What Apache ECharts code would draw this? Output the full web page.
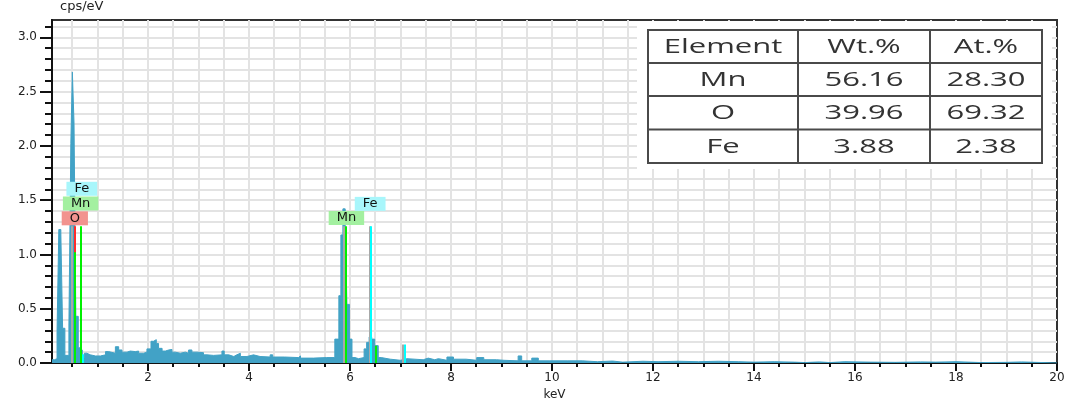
<!DOCTYPE html>
<html><head><meta charset="utf-8">
<script src="https://cdn.jsdelivr.net/npm/echarts@6/dist/echarts.min.js"></script>
<style>html,body{margin:0;padding:0;background:#fff}#c{width:1071px;height:406px}</style>
</head><body><div id="c"></div>
<script>
// ---- tick values ----
const xMajorTicks = [2, 4, 6, 8, 10, 12, 14, 16, 18, 20];
const xGridTicks = [0.5, 1, 1.5, 2, 2.5, 3, 3.5, 4, 4.5, 5, 5.5, 6, 6.5, 7, 7.5, 8, 8.5, 9, 9.5, 10,
  10.5, 11, 11.5, 12, 12.5, 13, 13.5, 14, 14.5, 15, 15.5, 16, 16.5, 17, 17.5, 18, 18.5, 19, 19.5];
const yMajorTicks = [0, 0.5, 1, 1.5, 2, 2.5, 3];
const yGridTicks = [0.1, 0.2, 0.3, 0.4, 0.5, 0.6, 0.7, 0.8, 0.9, 1, 1.1, 1.2, 1.3, 1.4, 1.5, 1.6,
  1.7, 1.8, 1.9, 2, 2.1, 2.2, 2.3, 2.4, 2.5, 2.6, 2.7, 2.8, 2.9, 3, 3.1];

// ---- spectrum: bin left edge (keV) and counts (cps/eV) ----
const specE = [
  0.10, 0.15, 0.20, 0.235, 0.275, 0.31, 0.355, 0.435, 0.473, 0.503,
  0.536, 0.572, 0.62, 0.66, 0.70, 0.74, 0.79, 0.86, 0.96, 1.06,
  1.16, 1.22, 1.355, 1.42, 1.485, 1.585, 1.65, 1.75, 1.815, 1.915,
  1.98, 2.06, 2.11, 2.165, 2.21, 2.28, 2.345, 2.41, 2.475, 2.54,
  2.64, 2.74, 2.805, 2.87, 2.97, 3.10, 3.17, 3.30, 3.465, 3.51,
  3.60, 3.70, 3.76, 3.83, 3.96, 4.09, 4.22, 4.42, 4.47, 4.70,
  4.98, 5.02, 5.28, 5.54, 5.70, 5.78, 5.82, 5.86, 5.905, 5.94,
  5.99, 6.04, 6.10, 6.17, 6.28, 6.33, 6.38, 6.43, 6.49, 6.56,
  6.62, 6.80, 7.00, 7.12, 7.45, 7.55, 7.68, 7.75, 7.92, 8.05,
  8.30, 8.51, 8.65, 8.90, 9.05, 9.33, 9.40, 9.60, 9.73, 9.96,
  10.3, 10.6, 10.9, 11.2, 11.4, 11.8, 12.1, 12.5, 12.9, 13.3,
  13.7, 14.0, 14.4, 14.8, 15.0, 15.3, 15.5, 15.8, 16.3, 16.8,
  17.3, 17.6, 18.0, 18.5, 19.0, 19.3, 20.0
];
const specC = [
  0.03, 0.04, 0.29, 1.23, 1.20, 0.32, 0.07, 0.35, 2.02, 2.68,
  2.21, 0.43, 0.14, 0.12, 0.05, 0.09, 0.075, 0.065, 0.065, 0.075,
  0.105, 0.09, 0.15, 0.12, 0.10, 0.11, 0.105, 0.11, 0.09, 0.10,
  0.13, 0.20, 0.215, 0.18, 0.135, 0.11, 0.12, 0.125, 0.10, 0.09,
  0.10, 0.09, 0.12, 0.10, 0.095, 0.075, 0.07, 0.075, 0.11, 0.075,
  0.06, 0.075, 0.09, 0.06, 0.075, 0.06, 0.055, 0.075, 0.055, 0.05,
  0.065, 0.045, 0.05, 0.05, 0.22, 0.62, 1.18, 1.42, 1.26, 0.54,
  0.22, 0.05, 0.04, 0.05, 0.13, 0.19, 0.24, 0.22, 0.16, 0.05,
  0.035, 0.025, 0.04, 0.03, 0.045, 0.03, 0.04, 0.025, 0.055, 0.035,
  0.025, 0.05, 0.03, 0.025, 0.02, 0.065, 0.02, 0.045, 0.02, 0.02,
  0.02, 0.012, 0.018, 0.008, 0.016, 0.012, 0.016, 0.012, 0.016, 0.012,
  0.008, 0.012, 0.008, 0.004, 0.01, 0.004, 0.012, 0.008, 0.006, 0.01,
  0.008, 0.012, 0.004, 0.006, 0.01, 0, 0
];

// ---- element marker lines ----
const markerE = [0.49, 0.545, 0.545, 0.665, 0.71, 5.88, 5.925, 6.385, 6.42, 6.52, 7.043, 7.083];
const markerH = [1.26, 1.26, 1.02, 1.26, 0.08, 1.26, 1.26, 1.26, 1.26, 0.16, 0.17, 0.17];
const markerColor = ['#a8a8a8', '#ff2a2a', '#00f000', '#00f000', '#00ffff', '#a8a8a8',
  '#00f000', '#a8a8a8', '#00ffff', '#00f000', '#a8a8a8', '#00ffff'];

// ---- element labels ----
const labelNames = ['O', 'Mn', 'Fe', 'Mn', 'Fe'];
const labelE = [0.552, 0.667, 0.69, 5.93, 6.40];
const labelY = [1.333, 1.47, 1.605, 1.337, 1.466];
const labelBg = ['#f2938f', '#a3f0a0', '#a8f6fb', '#a3f0a0', '#a8f6fb'];

// ---- table ----
const tableHeader = ['Element', 'Wt.%', 'At.%'];
const tableElements = ['Mn', 'O', 'Fe'];
const tableWt = ['56.16', '39.96', '3.88'];
const tableAt = ['28.30', '69.32', '2.38'];

const FONT = 'DejaVu Sans';
const chart = echarts.init(document.getElementById('c'), null, {renderer: 'canvas'});

const specData = specE.map((e, i) => [e, specC[i]]);
const markerData = markerE.map((e, i) => ({
  coords: [[e, 0], [e, markerH[i]]],
  lineStyle: {color: markerColor[i], width: 2, opacity: 1}
}));
const labelData = labelNames.map((n, i) => ({
  name: n, value: [labelE[i], labelY[i]],
  label: {backgroundColor: labelBg[i]}
}));

// table graphics
const colX = [648, 798, 930, 1042];
const rowY = [30, 63, 96, 129.5, 163];
const tbl = [{type: 'rect', shape: {x: 637, y: 21, width: 415, height: 148}, style: {fill: '#fff'}, z: 100}];
rowY.forEach(y => tbl.push({type: 'line', shape: {x1: colX[0] - 1, y1: y, x2: colX[3] + 1, y2: y},
  style: {stroke: '#4a4a4a', lineWidth: 2}, z: 101}));
colX.forEach(x => tbl.push({type: 'line', shape: {x1: x, y1: rowY[0] - 1, x2: x, y2: rowY[4] + 1},
  style: {stroke: '#4a4a4a', lineWidth: 2}, z: 101}));
const rows = [tableHeader].concat(tableElements.map((el, i) => [el, tableWt[i], tableAt[i]]));
rows.forEach((r, ri) => r.forEach((t, ci) => {
  tbl.push({type: 'text', x: (colX[ci] + colX[ci + 1]) / 2, y: (rowY[ri] + rowY[ri + 1]) / 2 + 1,
    scaleX: 1.55, z: 102,
    style: {text: t, fill: '#333', font: '20px "Open Sans"', textAlign: 'center', textVerticalAlign: 'middle'}});
}));

const option = {
  animation: false,
  backgroundColor: '#fff',
  grid: {left: 52, right: 14, top: 19, bottom: 42, show: true, borderColor: '#333', borderWidth: 2, backgroundColor: '#fff'},
  xAxis: [
    {type: 'value', min: 0.1, max: 20, position: 'bottom',
      axisLine: {show: true, onZero: false, lineStyle: {color: '#111', width: 2}},
      axisTick: {show: true, customValues: xGridTicks, length: 4, lineStyle: {color: '#111', width: 2}},
      axisLabel: {show: false},
      splitLine: {show: true, lineStyle: {color: '#e3e3e3', width: 2}}},
    {type: 'value', min: 0.1, max: 20, position: 'bottom',
      axisLine: {show: false, onZero: false},
      axisTick: {show: true, customValues: xMajorTicks, length: 8, lineStyle: {color: '#111', width: 2}},
      axisLabel: {show: true, customValues: xMajorTicks, margin: 9, fontFamily: FONT, fontSize: 12, color: '#222'},
      splitLine: {show: false},
      name: 'keV', nameLocation: 'middle', nameGap: 26,
      nameTextStyle: {fontFamily: FONT, fontSize: 12, color: '#222'}}
  ],
  yAxis: [
    {type: 'value', min: 0, max: 3.16, position: 'left',
      axisLine: {show: true, onZero: false, lineStyle: {color: '#111', width: 2}},
      axisTick: {show: true, customValues: yGridTicks, length: 7, lineStyle: {color: '#111', width: 2}},
      axisLabel: {show: false},
      splitLine: {show: true, lineStyle: {color: '#e3e3e3', width: 2}}},
    {type: 'value', min: 0, max: 3.16, position: 'left',
      axisLine: {show: false, onZero: false},
      axisTick: {show: true, customValues: yMajorTicks, length: 12, lineStyle: {color: '#111', width: 2}},
      axisLabel: {show: true, customValues: yMajorTicks, margin: 15, fontFamily: FONT, fontSize: 12, color: '#222',
        formatter: v => v.toFixed(1)},
      splitLine: {show: false},
      name: 'cps/eV', nameLocation: 'end', nameGap: 7,
      nameTextStyle: {fontFamily: FONT, fontSize: 13, color: '#222', align: 'left', padding: [0, 0, 0, 8]}}
  ],
  series: [
    {type: 'line', xAxisIndex: 0, yAxisIndex: 0, step: 'end', symbol: 'none', data: specData,
      lineStyle: {color: '#42a2c6', width: 1}, areaStyle: {color: '#42a2c6', opacity: 1}, z: 2},
    {type: 'lines', coordinateSystem: 'cartesian2d', xAxisIndex: 0, yAxisIndex: 0, data: markerData,
      polyline: false, silent: true, z: 3},
    {type: 'scatter', xAxisIndex: 0, yAxisIndex: 0, data: labelData, symbolSize: 1,
      itemStyle: {color: 'rgba(0,0,0,0)'}, z: 4, silent: true,
      label: {show: true, position: 'inside', formatter: '{b}', color: '#111', fontFamily: FONT, fontSize: 13,
        padding: [1, 8, 0, 8], lineHeight: 13, opacity: 1}}
  ],
  graphic: tbl
};
chart.setOption(option);
</script>
</body></html>
